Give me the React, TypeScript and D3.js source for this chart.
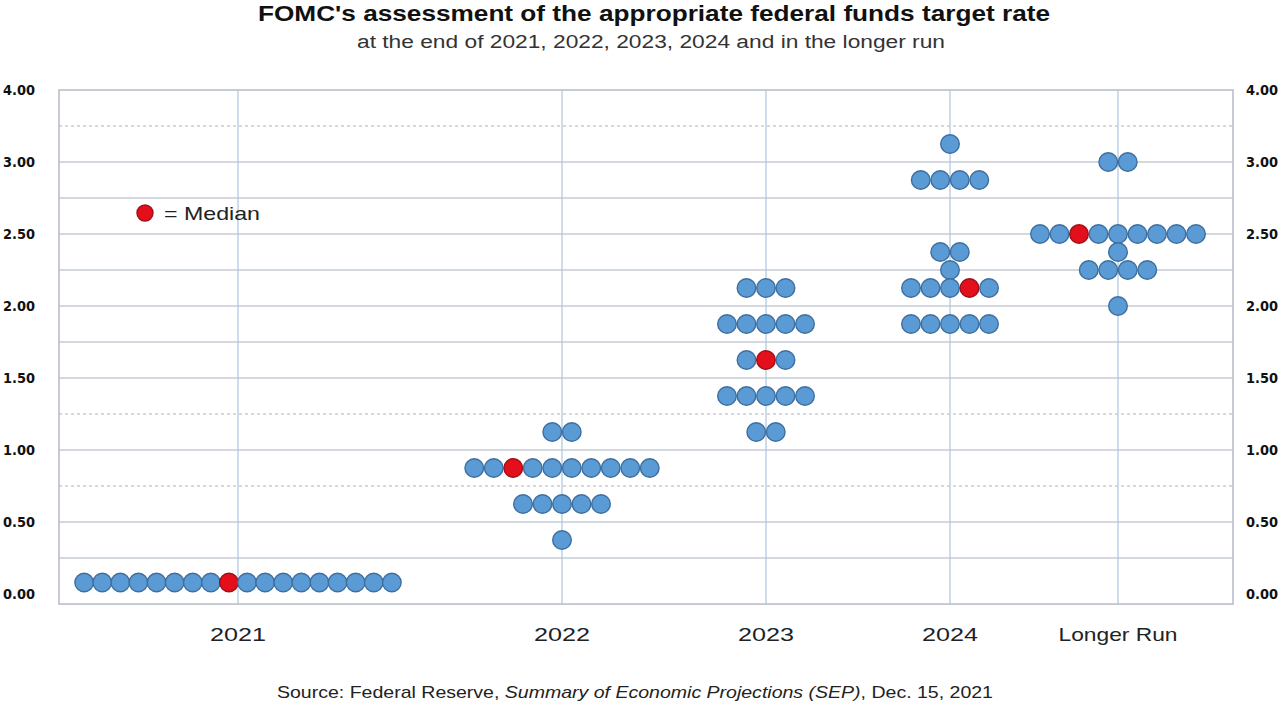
import React from "react";
import * as d3 from "d3";

// ---------------- DATA ----------------
const categories = ["2021", "2022", "2023", "2024", "Longer Run"];

// one entry per participant's projection (percent)
const dots2021 = [0.08, 0.08, 0.08, 0.08, 0.08, 0.08, 0.08, 0.08, 0.08, 0.08, 0.08, 0.08, 0.08, 0.08, 0.08, 0.08, 0.08, 0.08];
const dots2022 = [1.125, 1.125, 0.875, 0.875, 0.875, 0.875, 0.875, 0.875, 0.875, 0.875, 0.875, 0.875, 0.625, 0.625, 0.625, 0.625, 0.625, 0.375];
const dots2023 = [2.125, 2.125, 2.125, 1.875, 1.875, 1.875, 1.875, 1.875, 1.625, 1.625, 1.625, 1.375, 1.375, 1.375, 1.375, 1.375, 1.125, 1.125];
const dots2024 = [3.125, 2.875, 2.875, 2.875, 2.875, 2.375, 2.375, 2.25, 2.125, 2.125, 2.125, 2.125, 2.125, 1.875, 1.875, 1.875, 1.875, 1.875];
const dotsLonger = [3.0, 3.0, 2.5, 2.5, 2.5, 2.5, 2.5, 2.5, 2.5, 2.5, 2.5, 2.375, 2.25, 2.25, 2.25, 2.25, 2.0];
const dotSeries = [dots2021, dots2022, dots2023, dots2024, dotsLonger];

// median: value of the row and the position of the median dot in that row
const medianValue = [0.08, 0.875, 1.625, 2.125, 2.5];
const medianSlot = [8, 2, 1, 3, 2];

const yTickValues = [0, 0.5, 1.0, 1.5, 2.0, 2.5, 3.0, 3.5];
const yTickLabels = ["0.00", "0.50", "1.00", "1.50", "2.00", "2.50", "3.00", "4.00"];
const gridValues = [0.25, 0.5, 0.75, 1.0, 1.25, 1.5, 1.75, 2.0, 2.25, 2.5, 2.75, 3.0, 3.25];
const dashedGrid = [0.75, 1.25, 3.25];

const title = "FOMC's assessment of the appropriate federal funds target rate";
const subtitle = "at the end of 2021, 2022, 2023, 2024 and in the longer run";

// ---------------- LAYOUT ----------------
const W = 1280;
const H = 719;
const plotLeft = 59;
const plotRight = 1233;
const categoryX = [238, 562, 766, 950, 1118];
const dotSpacing = [18.1, 19.5, 19.5, 19.5, 19.5];
const R = 9.3;

const BLUE = "#5b9bd5";
const BLUE_STROKE = "#3f6f9f";
const RED = "#e3101c";
const RED_STROKE = "#a01018";

export default function App() {
  const y = d3.scaleLinear().domain([0, 3.5]).range([594, 90]);
  const x = d3.scaleOrdinal<string, number>().domain(categories).range(categoryX);
  const frameBottom = y(-0.07);

  const dots: { cx: number; cy: number; median: boolean; key: string }[] = [];
  categories.forEach((cat, ci) => {
    const groups = d3.groups(dotSeries[ci], (d) => d);
    groups.forEach(([val, arr]) => {
      const n = arr.length;
      arr.forEach((_, i) => {
        const cx = x(cat) + (i - (n - 1) / 2) * dotSpacing[ci];
        dots.push({
          cx,
          cy: y(val),
          median: val === medianValue[ci] && i === medianSlot[ci],
          key: `${cat}-${val}-${i}`,
        });
      });
    });
  });

  const sans = "'Liberation Sans', Arial, sans-serif";
  const tickFont = "'DejaVu Sans', Verdana, sans-serif";

  return (
    <svg
      width={W}
      height={H}
      style={{ position: "absolute", left: 0, top: 0, background: "#fff" }}
    >
      <rect x={0} y={0} width={W} height={H} fill="#ffffff" />

      {/* horizontal gridlines */}
      {gridValues.map((v) => (
        <line
          key={`h${v}`}
          x1={plotLeft}
          x2={plotRight}
          y1={y(v)}
          y2={y(v)}
          stroke={dashedGrid.includes(v) ? "#c9ccd4" : "#d3d7de"}
          strokeWidth={dashedGrid.includes(v) ? 1.3 : 2}
          strokeDasharray={dashedGrid.includes(v) ? "3 3" : undefined}
        />
      ))}

      {/* vertical category gridlines */}
      {categories.map((c) => (
        <line
          key={`v${c}`}
          x1={x(c)}
          x2={x(c)}
          y1={y(3.5)}
          y2={frameBottom}
          stroke="#b4cbe0"
          strokeWidth={1.3}
        />
      ))}

      {/* frame */}
      <rect
        x={plotLeft}
        y={y(3.5)}
        width={plotRight - plotLeft}
        height={frameBottom - y(3.5)}
        fill="none"
        stroke="#b9bfca"
        strokeWidth={1.6}
      />

      {/* y tick labels left & right */}
      {yTickValues.map((v, i) => (
        <g key={`t${v}`}>
          <text
            x={35}
            y={y(v)}
            dy="0.35em"
            textAnchor="end"
            fontFamily={tickFont}
            fontWeight="bold"
            fontSize={14}
            fill="#111"
            textLength={32}
            lengthAdjust="spacingAndGlyphs"
          >
            {yTickLabels[i]}
          </text>
          <text
            x={1246}
            y={y(v)}
            dy="0.35em"
            textAnchor="start"
            fontFamily={tickFont}
            fontWeight="bold"
            fontSize={14}
            fill="#111"
            textLength={32}
            lengthAdjust="spacingAndGlyphs"
          >
            {yTickLabels[i]}
          </text>
        </g>
      ))}

      {/* dots */}
      {dots.map((d) => (
        <circle
          key={d.key}
          cx={d.cx}
          cy={d.cy}
          r={R}
          fill={d.median ? RED : BLUE}
          stroke={d.median ? RED_STROKE : BLUE_STROKE}
          strokeWidth={1.4}
        />
      ))}

      {/* legend */}
      <circle cx={145} cy={213} r={8} fill={RED} stroke={RED_STROKE} strokeWidth={1.4} />
      <text
        x={164}
        y={213}
        dy="0.35em"
        fontFamily={sans}
        fontSize={19}
        fill="#222"
        textLength={96}
        lengthAdjust="spacingAndGlyphs"
      >
        = Median
      </text>

      {/* category labels */}
      {categories.map((c) => (
        <text
          key={`l${c}`}
          x={x(c)}
          y={634}
          dy="0.35em"
          textAnchor="middle"
          fontFamily={sans}
          fontSize={19}
          fill="#222"
          textLength={c === "Longer Run" ? 119 : 56}
          lengthAdjust="spacingAndGlyphs"
        >
          {c}
        </text>
      ))}

      {/* title */}
      <text
        x={654}
        y={21}
        textAnchor="middle"
        fontFamily={sans}
        fontWeight="bold"
        fontSize={22}
        fill="#111"
        textLength={792}
        lengthAdjust="spacingAndGlyphs"
      >
        {title}
      </text>
      <text
        x={651}
        y={48}
        textAnchor="middle"
        fontFamily={sans}
        fontSize={18}
        fill="#333"
        textLength={588}
        lengthAdjust="spacingAndGlyphs"
      >
        {subtitle}
      </text>

      {/* source */}
      <text
        x={277}
        y={698}
        fontFamily={sans}
        fontSize={17}
        fill="#222"
        textLength={716}
        lengthAdjust="spacingAndGlyphs"
      >
        <tspan>Source: Federal Reserve, </tspan>
        <tspan fontStyle="italic">Summary of Economic Projections (SEP)</tspan>
        <tspan>, Dec. 15, 2021</tspan>
      </text>
    </svg>
  );
}
